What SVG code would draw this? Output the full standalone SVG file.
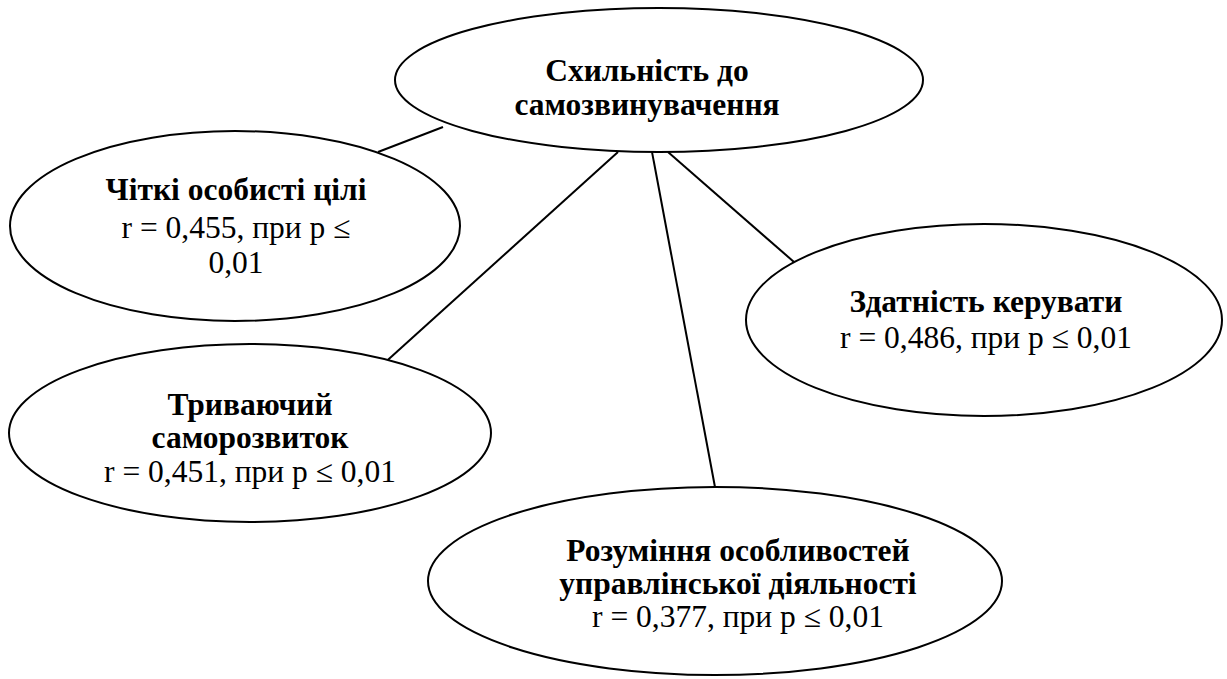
<svg xmlns="http://www.w3.org/2000/svg" width="1227" height="679" viewBox="0 0 1227 679">
<style>
.n{fill:#fff;stroke:#000;stroke-width:2}
.c line{stroke:#000;stroke-width:2}
text{font-family:"Liberation Serif","Times New Roman",serif;font-size:31.5px;fill:#000;text-anchor:middle}
.b{font-weight:bold}
</style>
<rect width="1227" height="679" fill="#fff"/>
<g id="connectors" class="c">
<line x1="443" y1="127" x2="378" y2="152"/>
<line x1="618" y1="152" x2="380" y2="367"/>
<line x1="652" y1="152" x2="715" y2="487"/>
<line x1="668" y1="152" x2="794" y2="262"/>
</g>
<g id="n-top">
<ellipse class="n" cx="659" cy="80" rx="264" ry="72"/>
<text class="b" x="647" y="81">Схильність до</text>
<text class="b" x="647" y="115">самозвинувачення</text>
</g>
<g id="n-goals">
<ellipse class="n" cx="235" cy="226" rx="225" ry="95"/>
<text class="b" x="236" y="200">Чіткі особисті цілі</text>
<text x="236" y="238">r = 0,455, при p ≤</text>
<text x="236" y="273">0,01</text>
</g>
<g id="n-manage">
<ellipse class="n" cx="984" cy="320" rx="238" ry="96"/>
<text class="b" x="986" y="312">Здатність керувати</text>
<text x="986" y="348">r = 0,486, при p ≤ 0,01</text>
</g>
<g id="n-dev">
<ellipse class="n" cx="250" cy="433" rx="241" ry="89"/>
<text class="b" x="250" y="415">Триваючий</text>
<text class="b" x="250" y="448">саморозвиток</text>
<text x="250" y="482">r = 0,451, при p ≤ 0,01</text>
</g>
<g id="n-underst">
<ellipse class="n" cx="715" cy="581" rx="287" ry="94"/>
<text class="b" x="738" y="561">Розуміння особливостей</text>
<text class="b" x="738" y="594">управлінської діяльності</text>
<text x="738" y="627">r = 0,377, при p ≤ 0,01</text>
</g>
</svg>
